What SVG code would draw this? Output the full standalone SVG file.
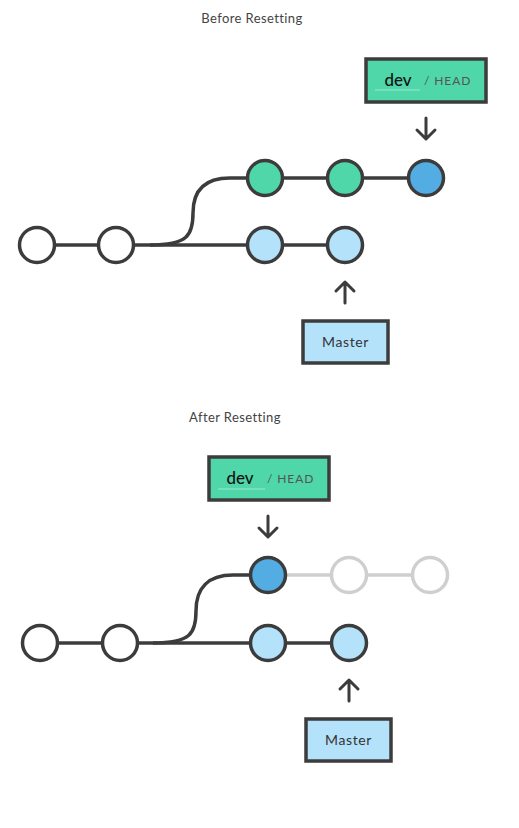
<svg xmlns="http://www.w3.org/2000/svg" width="519" height="828" viewBox="0 0 519 828">
  <defs>
    <style>
      .title { font-family: "Lato", "Liberation Sans", sans-serif; font-size: 13px; fill: #444; letter-spacing: 0.4px; }
      .edge { fill: none; stroke: #3c3c3c; stroke-width: 3.5; }
      .edge-faded { fill: none; stroke: #cfcfcf; stroke-width: 3.5; }
      .commit { stroke: #3c3c3c; stroke-width: 3.5; }
      .plain { fill: #ffffff; }
      .feature { fill: #4fd6a9; }
      .head { fill: #54ade2; }
      .main { fill: #b5e2fb; }
      .faded { fill: #ffffff; stroke: #cfcfcf; stroke-width: 3.5; }
      .box { stroke: #3c3c3c; stroke-width: 3.5; }
      .branch { font-family: "Lato", "Liberation Sans", sans-serif; font-size: 17px; font-weight: 500; fill: #111; }
      .ref { font-family: "Lato", "Liberation Sans", sans-serif; font-size: 12px; fill: #555; letter-spacing: 0.9px; }
      .label { font-family: "Lato", "Liberation Sans", sans-serif; font-size: 14px; fill: #333; letter-spacing: 0.6px; }
      .underline { stroke: #9ee8cf; stroke-width: 1; }
      .arrow { fill: none; stroke: #3c3c3c; stroke-width: 3; stroke-linecap: round; stroke-linejoin: round; }
    </style>
  </defs>

  <!-- Before Resetting -->
  <text class="title" x="252" y="23" text-anchor="middle">Before Resetting</text>

  <g id="connectors-before">
    <path class="edge" d="M37 245 L345 245"/>
    <path class="edge" d="M150 245 C188 245 193 235 193 213 C193 190 205 178 230 178 L426 178"/>
    <path class="arrow" d="M426 118 L426 139 M417 130 L426 139 L435 130"/>
    <path class="arrow" d="M345 303 L345 282 M336 291 L345 282 L354 291"/>
  </g>

  <g id="b-c1"><circle class="commit plain" cx="37" cy="245" r="17.5"/></g>
  <g id="b-c2"><circle class="commit plain" cx="116" cy="245" r="17.5"/></g>
  <g id="b-m1"><circle class="commit main" cx="265" cy="245" r="17.5"/></g>
  <g id="b-m2"><circle class="commit main" cx="345" cy="245" r="17.5"/></g>
  <g id="b-d1"><circle class="commit feature" cx="265" cy="178" r="17.5"/></g>
  <g id="b-d2"><circle class="commit feature" cx="345" cy="178" r="17.5"/></g>
  <g id="b-d3"><circle class="commit head" cx="426" cy="178" r="17.5"/></g>

  <g id="b-dev">
    <rect class="box feature" x="366" y="59" width="120" height="43"/>
    <text class="branch" x="398" y="86" text-anchor="middle">dev</text>
    <line class="underline" x1="375" y1="90" x2="420" y2="90"/>
    <text class="ref" x="424" y="85">/ HEAD</text>
  </g>

  <g id="b-master">
    <rect class="box main" x="303" y="321" width="85" height="42"/>
    <text class="label" x="345.5" y="347" text-anchor="middle">Master</text>
  </g>

  <!-- After Resetting -->
  <text class="title" x="235" y="422" text-anchor="middle">After Resetting</text>

  <g id="connectors-after">
    <path class="edge-faded" d="M268 575 L430 575"/>
    <path class="edge" d="M40 643 L349 643"/>
    <path class="edge" d="M153 643 C191 643 196 633 196 611 C196 588 208 575 233 575 L268 575"/>
    <path class="arrow" d="M268 516 L268 537 M259 528 L268 537 L277 528"/>
    <path class="arrow" d="M349 701 L349 680 M340 689 L349 680 L358 689"/>
  </g>

  <g id="a-c1"><circle class="commit plain" cx="40" cy="643" r="17.5"/></g>
  <g id="a-c2"><circle class="commit plain" cx="120" cy="643" r="17.5"/></g>
  <g id="a-m1"><circle class="commit main" cx="268" cy="643" r="17.5"/></g>
  <g id="a-m2"><circle class="commit main" cx="349" cy="643" r="17.5"/></g>
  <g id="a-d1"><circle class="commit head" cx="268" cy="575" r="17.5"/></g>
  <g id="a-d2"><circle class="faded" cx="349" cy="575" r="17.5"/></g>
  <g id="a-d3"><circle class="faded" cx="430" cy="575" r="17.5"/></g>

  <g id="a-dev">
    <rect class="box feature" x="209" y="457" width="120" height="43"/>
    <text class="branch" x="240" y="484" text-anchor="middle">dev</text>
    <line class="underline" x1="218" y1="489" x2="265" y2="489"/>
    <text class="ref" x="267" y="483">/ HEAD</text>
  </g>

  <g id="a-master">
    <rect class="box main" x="306" y="719" width="85" height="42"/>
    <text class="label" x="348.5" y="745" text-anchor="middle">Master</text>
  </g>
</svg>
